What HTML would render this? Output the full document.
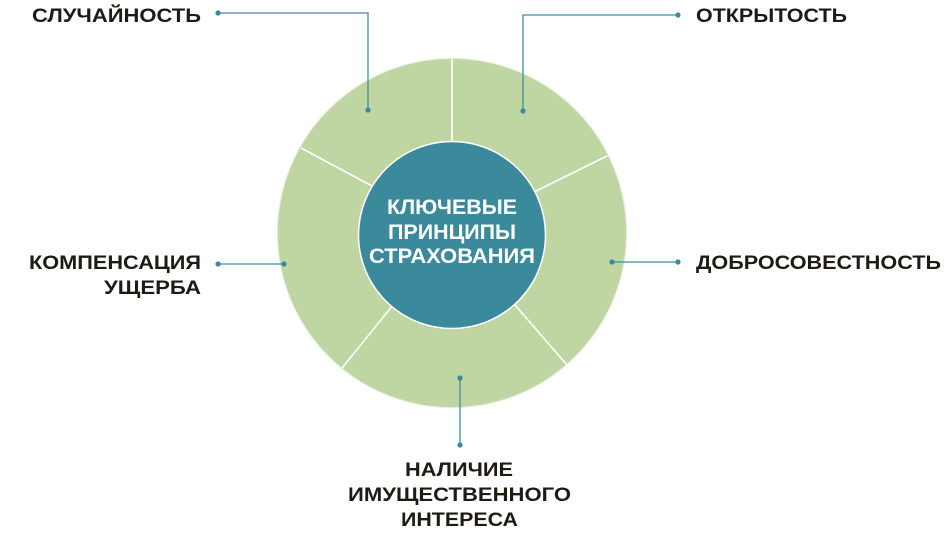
<!DOCTYPE html>
<html><head><meta charset="utf-8"><style>
html,body{margin:0;padding:0;background:#fff;}
svg{display:block;}
text{font-family:"Liberation Sans",sans-serif;font-weight:bold;}
</style></head><body>
<svg width="948" height="538" viewBox="0 0 948 538" xmlns="http://www.w3.org/2000/svg">
<circle cx="452" cy="233" r="174.5" fill="#bfd5a2" stroke="#e4ecd9" stroke-width="1"/>
<g stroke="#ffffff" stroke-width="1.6">
<line x1="452" y1="59" x2="452" y2="142"/>
<line x1="607" y1="156" x2="530" y2="194"/>
<line x1="567" y1="365" x2="515" y2="305"/>
<line x1="342" y1="368" x2="393" y2="305"/>
<line x1="301" y1="148" x2="372" y2="186"/>
</g>
<circle cx="452" cy="235" r="93.5" fill="#3a8a9c" stroke="#ffffff" stroke-width="1.5"/>
<g fill="#ffffff" font-size="21">
<text x="387" y="214" textLength="130" lengthAdjust="spacingAndGlyphs">КЛЮЧЕВЫЕ</text>
<text x="388" y="239" textLength="128" lengthAdjust="spacingAndGlyphs">ПРИНЦИПЫ</text>
<text x="369" y="263" textLength="166" lengthAdjust="spacingAndGlyphs">СТРАХОВАНИЯ</text>
</g>
<g stroke="#3f8f9f" stroke-width="1.3" fill="none">
<polyline points="218,13 368,13 368,110"/>
<polyline points="678,15 523,15 523,111"/>
<line x1="612" y1="262" x2="678" y2="262"/>
<line x1="218" y1="264" x2="284" y2="264"/>
<line x1="460" y1="378" x2="460" y2="445"/>
</g>
<g fill="#3a8a9c">
<circle cx="218" cy="13" r="2.6"/><circle cx="368" cy="110" r="2.6"/>
<circle cx="678" cy="15" r="2.6"/><circle cx="523" cy="111" r="2.6"/>
<circle cx="612" cy="262" r="2.6"/><circle cx="678" cy="262" r="2.6"/>
<circle cx="218" cy="264" r="2.6"/><circle cx="284" cy="264" r="2.6"/>
<circle cx="460" cy="378" r="2.6"/><circle cx="460" cy="445" r="2.6"/>
</g>
<g fill="#1e1a14" font-size="19">
<text x="32" y="22" textLength="169" lengthAdjust="spacingAndGlyphs">СЛУЧАЙНОСТЬ</text>
<text x="696" y="22" textLength="151" lengthAdjust="spacingAndGlyphs">ОТКРЫТОСТЬ</text>
<text x="696" y="269" textLength="245" lengthAdjust="spacingAndGlyphs">ДОБРОСОВЕСТНОСТЬ</text>
<text x="29" y="269" textLength="172" lengthAdjust="spacingAndGlyphs">КОМПЕНСАЦИЯ</text>
<text x="104" y="294" textLength="97" lengthAdjust="spacingAndGlyphs">УЩЕРБА</text>
<text x="405" y="476" textLength="108" lengthAdjust="spacingAndGlyphs">НАЛИЧИЕ</text>
<text x="348" y="501" textLength="223" lengthAdjust="spacingAndGlyphs">ИМУЩЕСТВЕННОГО</text>
<text x="401" y="526" textLength="117" lengthAdjust="spacingAndGlyphs">ИНТЕРЕСА</text>
</g>
</svg>
</body></html>
